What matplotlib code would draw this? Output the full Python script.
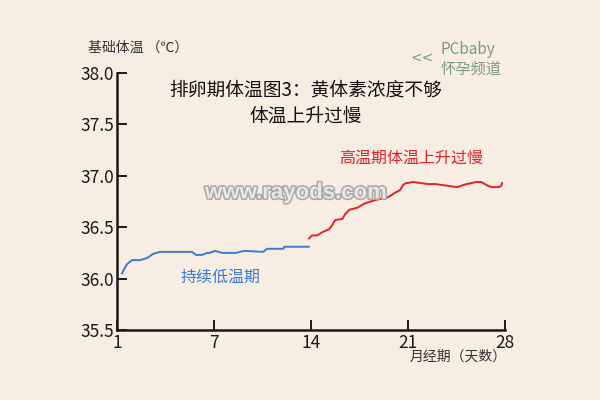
import numpy as np
import matplotlib
matplotlib.use("Agg")
import matplotlib.pyplot as plt
import matplotlib.patheffects as pe

plt.rcParams['font.family'] = ['Noto Sans CJK SC', 'DejaVu Sans']

# ---- data ----
x_ticks = [1, 7, 14, 21, 28]
y_ticks = [35.5, 36.0, 36.5, 37.0, 37.5, 38.0]

low_days = [1.31, 1.43, 1.62, 1.93, 2.42, 2.86, 3.23, 3.66, 4.9, 5.64, 5.89,
            6.26, 6.57, 6.75, 7.07, 7.59, 8.62, 9.14, 10.54, 10.83, 12.01,
            12.08, 13.84]
low_temp = [36.05, 36.09, 36.14, 36.18, 36.18, 36.20, 36.24, 36.26, 36.26,
            36.26, 36.23, 36.23, 36.25, 36.25, 36.27, 36.25, 36.25, 36.27,
            36.26, 36.29, 36.29, 36.31, 36.31]

high_days = [13.85, 14.07, 14.44, 14.80, 15.31, 15.53, 15.75, 16.26, 16.48,
             16.77, 17.35, 17.86, 18.30, 18.81, 19.54, 20.13, 20.42, 20.56,
             20.64, 20.85, 21.0, 21.35, 22.41, 22.98, 23.47, 24.54, 25.24,
             25.6, 25.95, 26.3, 26.66, 27.01, 27.5, 27.72, 27.79]
high_temp = [36.39, 36.42, 36.42, 36.45, 36.48, 36.52, 36.57, 36.58, 36.63,
             36.67, 36.69, 36.73, 36.75, 36.77, 36.79, 36.84, 36.86, 36.89,
             36.91, 36.93, 36.93, 36.94, 36.92, 36.92, 36.91, 36.89, 36.92,
             36.93, 36.94, 36.94, 36.91, 36.89, 36.89, 36.90, 36.93]

title_lines = ["排卵期体温图3：黄体素浓度不够", "体温上升过慢"]
low_label = "持续低温期"
high_label = "高温期体温上升过慢"
y_title = "基础体温 （℃）"
x_title = "月经期（天数）"

# ---- style ----
bg = '#f7ede3'
blue = '#3a7bd5'
red = '#e42229'
ink = '#1a1a1a'

fig = plt.figure(figsize=(6, 4), dpi=100, facecolor=bg)
ax = fig.add_axes([117/600, 1-330/400, (505-117)/600, (330-73)/400])
ax.set_facecolor(bg)

tick_pos = np.arange(len(x_ticks), dtype=float)
fwd = lambda d: np.interp(d, x_ticks, tick_pos)
inv = lambda p: np.interp(p, tick_pos, x_ticks)
ax.set_xscale('function', functions=(fwd, inv))

ax.plot(low_days, low_temp, color=blue, lw=1.4, solid_joinstyle='round')
ax.plot(high_days, high_temp, color=red, lw=1.4, solid_joinstyle='round')

ax.set_xlim(1, 28)
ax.set_ylim(35.5, 38.0)
ax.set_xticks(x_ticks)
ax.set_xticklabels([str(v) for v in x_ticks])
ax.set_yticks(y_ticks)
ax.set_yticklabels([f"{v:.1f}" for v in y_ticks])
ax.xaxis.set_minor_locator(matplotlib.ticker.NullLocator())

for s in ['top', 'right']:
    ax.spines[s].set_visible(False)
for s in ['left', 'bottom']:
    ax.spines[s].set_linewidth(1.8)
    ax.spines[s].set_color(ink)
ax.tick_params(direction='in', length=7.5, width=1.4, colors=ink,
               labelsize=12.5, pad=2)
ax.tick_params(axis='x', pad=3)

def ftxt(px, py, s, **kw):
    fig.text(px/600, 1-py/400, s, **kw)

ftxt(306, 90, title_lines[0], ha='center', va='center', fontsize=13.5, color='#111111')
ftxt(306, 116, title_lines[1], ha='center', va='center', fontsize=13.5, color='#111111')
ftxt(88, 48, y_title, ha='left', va='center', fontsize=10, color='#333333')
ftxt(410, 357, x_title, ha='left', va='center', fontsize=10, color='#333333')
ftxt(411, 158, high_label, ha='center', va='center', fontsize=11.5, color=red)
ftxt(221, 277, low_label, ha='center', va='center', fontsize=11.5, color=blue)

green = '#7c9a7c'
ftxt(441, 50, "PCbaby", ha='left', va='center', fontsize=11, color=green)
ftxt(441, 69, "怀孕频道", ha='left', va='center', fontsize=11, color=green)
ftxt(422, 58, "<<", ha='center', va='center', fontsize=10, color=green,
     family='DejaVu Sans')

ftxt(296, 193, "www.rayods.com", ha='center', va='center', fontsize=16,
     fontweight='bold', family='Liberation Sans', color='#ebe7e3',
     path_effects=[pe.Stroke(linewidth=2.2, foreground='#a8a8a8'), pe.Normal()])

fig.savefig('out.png', dpi=100, facecolor=bg)
